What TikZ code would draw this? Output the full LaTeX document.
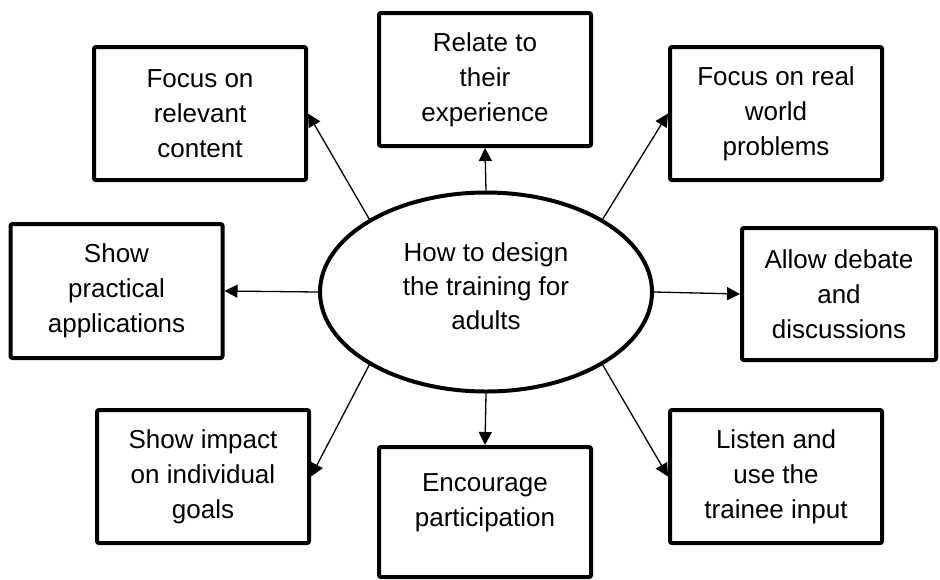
\documentclass[tikz,border=0pt]{standalone}
\usepackage{fontspec}
\setmainfont{Liberation Sans}
\usetikzlibrary{arrows.meta,shapes.geometric}

\begin{document}
\begin{tikzpicture}[x=0.5pt,y=-0.5pt,
  idea/.style={draw,line width=2pt,rounded corners=1pt,minimum width=106pt,
    minimum height=66.5pt,align=center,inner sep=0pt,
    font=\fontsize{13}{17.5}\selectfont},
  hubnode/.style={ellipse,draw,line width=2pt,minimum width=166pt,
    minimum height=99.5pt,inner sep=0pt},
  link/.style={-{Triangle[length=6.5pt,width=6.5pt]},line width=0.65pt}]
  \useasboundingbox (0,0) rectangle (940,579);

  % Central question
  \node[hubnode] (hub) at (486,292) {};
  \node[align=center,inner sep=0pt,font=\fontsize{13}{17}\selectfont]
    (hubtext) at (486,286) {How to design\\the training for\\adults};

  % Top row
  \node[idea] (relevant) at (200,113.5) {Focus on\\relevant\\content};
  \node[idea] (relate) at (485,79.5) {Relate to\\their\\experience};
  \node[idea] (real) at (776,113.5) {Focus on real\\world\\problems};

  % Middle row
  \node[idea,minimum height=67pt] (practical) at (116.5,291) {Show\\practical\\applications};
  \node[idea,minimum width=97pt,minimum height=66pt] (debate) at (839,294) {Allow debate\\and\\discussions};

  % Bottom row
  \node[idea] (impact) at (203,476.5) {Show impact\\on individual\\goals};
  \node[idea,minimum height=65pt] (encourage) at (485,512) {Encourage\\participation\\[-11pt]\strut};
  \node[idea] (listen) at (776,476.5) {Listen and\\use the\\trainee input};

  % Arrows out of the ellipse
  \draw[link] (hub.148) -- (relevant.east);
  \draw[link] (hub.north) -- (relate.south);
  \draw[link] (hub.32) -- (real.west);
  \draw[link] (hub.west) -- (practical.east);
  \draw[link] (hub.east) -- (debate.west);
  \draw[link] (hub.212) -- (impact.east);
  \draw[link] (hub.south) -- (encourage.north);
  \draw[link] (hub.328) -- (listen.west);
\end{tikzpicture}
\end{document}
